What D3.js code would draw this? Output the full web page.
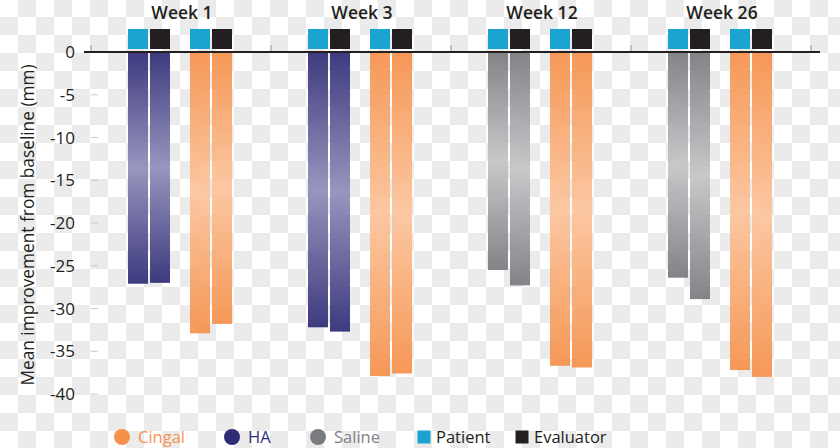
<!DOCTYPE html>
<html><head><meta charset="utf-8">
<script src="https://cdn.jsdelivr.net/npm/d3@7/dist/d3.min.js"></script>
<style>
html,body{margin:0;padding:0;background:#fff;}
svg{display:block;font-family:"Open Sans",Lato,sans-serif;}
</style></head>
<body><svg id="chart" width="840" height="448"></svg>
<script>
// ---- data ----
const weeks = ["Week 1", "Week 3", "Week 12", "Week 26"];
const comparators = ["HA", "HA", "Saline", "Saline"];
const comparatorPatient = [-27.1, -32.2, -25.5, -26.4];
const comparatorEvaluator = [-27.0, -32.7, -27.3, -28.9];
const cingalPatient = [-32.9, -37.9, -36.7, -37.2];
const cingalEvaluator = [-31.8, -37.6, -36.9, -38.0];
const yTicks = [0, -5, -10, -15, -20, -25, -30, -35, -40];
const raters = ["Patient", "Evaluator"];
const treatments = ["Cingal", "HA", "Saline"];

const colors = {
  Cingal: {dark: "#f5914b", light: "#fcc49c", text: "#f7934f"},
  HA: {dark: "#2f2c76", light: "#918eba", text: "#312e78"},
  Saline: {dark: "#7a7b7f", light: "#c4c5c7", text: "#808185"}
};
const raterColor = {Patient: "#1ba3d1", Evaluator: "#231f20"};

const svg = d3.select("#chart");

// checkerboard background
const defs = svg.append("defs");
const pat = defs.append("pattern").attr("id", "checker").attr("patternUnits", "userSpaceOnUse")
  .attr("width", 36).attr("height", 36).attr("x", 0).attr("y", -1);
pat.append("rect").attr("width", 36).attr("height", 36).attr("fill", "#ffffff");
pat.append("rect").attr("x", 18).attr("y", 0).attr("width", 18).attr("height", 18).attr("fill", "#ebebeb");
pat.append("rect").attr("x", 0).attr("y", 18).attr("width", 18).attr("height", 18).attr("fill", "#ebebeb");
svg.append("rect").attr("width", 840).attr("height", 448).attr("fill", "url(#checker)");

// gradients
treatments.forEach(t => {
  const g = defs.append("linearGradient").attr("id", "grad-" + t)
    .attr("x1", 0).attr("y1", 0).attr("x2", 0).attr("y2", 1);
  g.append("stop").attr("offset", "0%").attr("stop-color", colors[t].dark);
  g.append("stop").attr("offset", "50%").attr("stop-color", colors[t].light);
  g.append("stop").attr("offset", "100%").attr("stop-color", colors[t].dark);
});

// scales
const x0 = d3.scaleBand().domain(weeks).range([91, 811]).padding(0);
const xPair = d3.scaleBand().domain(["comparator", "Cingal"]).range([37, 141]).paddingInner(20 / 62).paddingOuter(0);
const xRater = d3.scaleBand().domain(raters).range([0, 42]).paddingInner(2 / 22).paddingOuter(0);
const y = d3.scaleLinear().domain([-40, 0]).range([394, 52]);

// build bar table
const bars = [];
weeks.forEach((w, i) => {
  bars.push({week: w, pair: "comparator", treat: comparators[i], rater: "Patient", value: comparatorPatient[i]});
  bars.push({week: w, pair: "comparator", treat: comparators[i], rater: "Evaluator", value: comparatorEvaluator[i]});
  bars.push({week: w, pair: "Cingal", treat: "Cingal", rater: "Patient", value: cingalPatient[i]});
  bars.push({week: w, pair: "Cingal", treat: "Cingal", rater: "Evaluator", value: cingalEvaluator[i]});
});
const bx = d => x0(d.week) + xPair(d.pair) + xRater(d.rater);

// y axis ticks
const yAxis = svg.append("g");
yAxis.selectAll("line.tk").data(yTicks.filter(t => t !== 0)).join("line")
  .attr("x1", 91).attr("x2", 98).attr("y1", d => y(d)).attr("y2", d => y(d))
  .attr("stroke", "#c8c8c8").attr("stroke-width", 1);
yAxis.selectAll("text").data(yTicks).join("text")
  .attr("x", 75).attr("y", d => y(d)).attr("dy", "0.36em")
  .attr("text-anchor", "end").attr("font-size", 17).attr("fill", "#231f20")
  .text(d => d === 0 ? "0" : "-" + Math.abs(d));

svg.append("text")
  .attr("transform", "translate(34,225) rotate(-90)")
  .attr("text-anchor", "middle").attr("font-size", 17.3).attr("fill", "#231f20")
  .text("Mean improvement from baseline (mm)");

// bars
svg.append("g").selectAll("rect").data(bars).join("rect")
  .attr("x", bx).attr("width", xRater.bandwidth())
  .attr("y", y(0)).attr("height", d => y(d.value) - y(0))
  .attr("fill", d => "url(#grad-" + d.treat + ")").attr("opacity", 0.93);

// rater squares above zero line
svg.append("g").selectAll("rect").data(bars).join("rect")
  .attr("x", bx).attr("width", xRater.bandwidth())
  .attr("y", 29).attr("height", 20)
  .attr("fill", d => raterColor[d.rater]);

// group boundary ticks
const bounds = weeks.map(w => x0(w)).concat([x0.range()[1]]);
svg.append("g").selectAll("line").data(bounds).join("line")
  .attr("x1", d => d).attr("x2", d => d).attr("y1", 45).attr("y2", 52)
  .attr("stroke", "#9a9a9a").attr("stroke-width", 1);

// zero line
svg.append("line").attr("x1", 84).attr("x2", 820).attr("y1", y(0)).attr("y2", y(0))
  .attr("stroke", "#231f20").attr("stroke-width", 2);

// week labels
svg.append("g").selectAll("text").data(weeks).join("text")
  .attr("x", d => x0(d) + x0.bandwidth() / 2 + 1).attr("y", 18.7)
  .attr("text-anchor", "middle").attr("font-size", 17.5).attr("font-weight", 600)
  .attr("fill", "#231f20").text(d => d);

// legend
const legendItems = [
  {label: "Cingal", kind: "circle", color: colors.Cingal.dark, text: colors.Cingal.text, x: 122},
  {label: "HA", kind: "circle", color: colors.HA.dark, text: colors.HA.text, x: 232},
  {label: "Saline", kind: "circle", color: colors.Saline.dark, text: colors.Saline.text, x: 318},
  {label: "Patient", kind: "square", color: raterColor.Patient, text: "#231f20", x: 424},
  {label: "Evaluator", kind: "square", color: raterColor.Evaluator, text: "#231f20", x: 522}
];
const lg = svg.append("g").selectAll("g").data(legendItems).join("g")
  .attr("transform", d => "translate(" + d.x + ",437)");
lg.filter(d => d.kind === "circle").append("circle").attr("r", 8).attr("fill", d => d.color);
lg.filter(d => d.kind === "square").append("rect").attr("x", -6.5).attr("y", -6.5)
  .attr("width", 13).attr("height", 13).attr("fill", d => d.color);
lg.append("text").attr("x", d => d.kind === "circle" ? 16 : 12).attr("y", 6)
  .attr("font-size", 16.5).attr("fill", d => d.text).text(d => d.label);
</script></body></html>
